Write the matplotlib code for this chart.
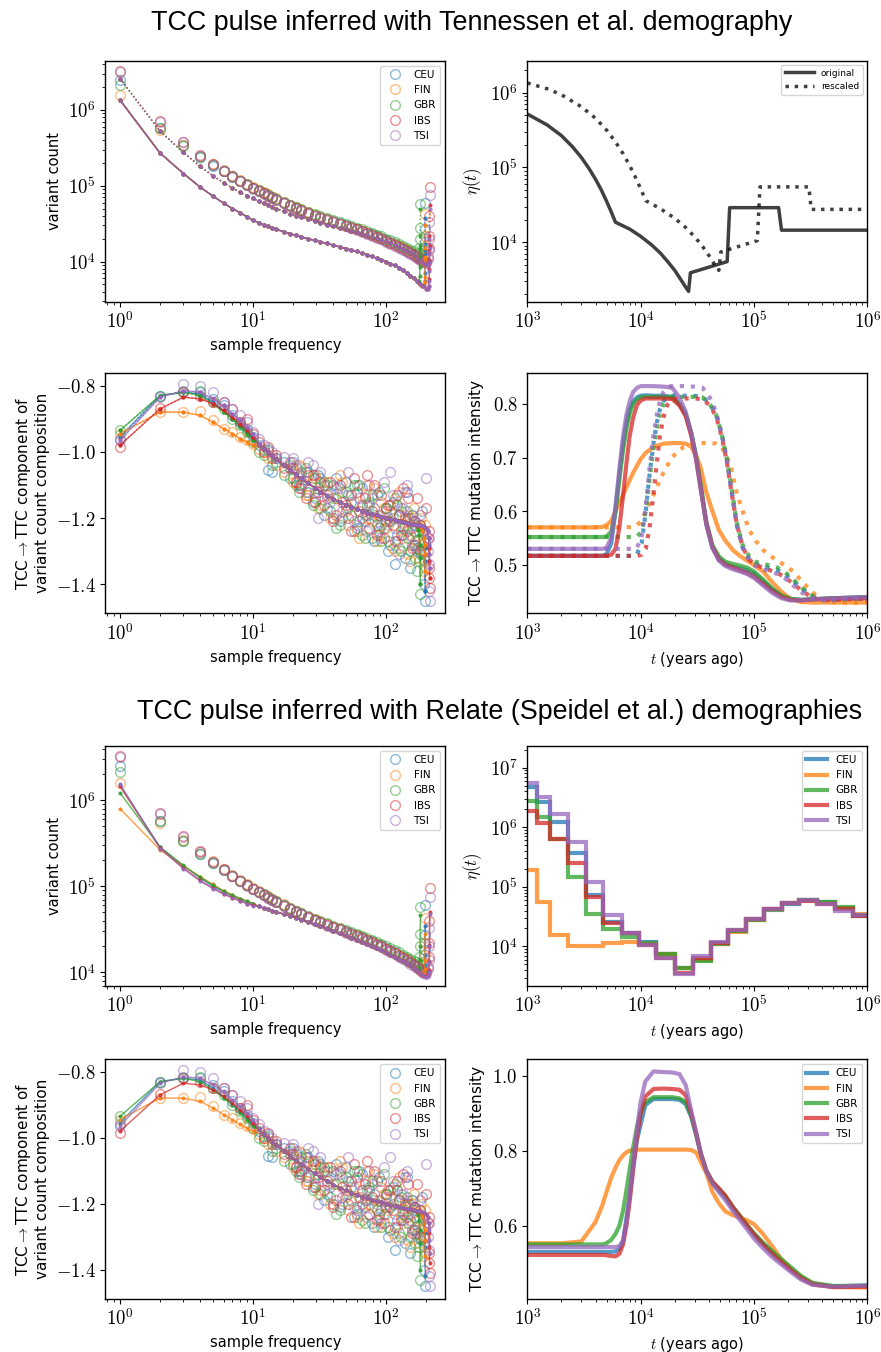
import numpy as np
import matplotlib.pyplot as plt
from matplotlib.lines import Line2D
from matplotlib.ticker import FuncFormatter, NullFormatter

plt.rcParams['mathtext.fontset'] = 'cm'
plt.rcParams['font.family'] = 'DejaVu Sans'
plt.rcParams['axes.linewidth'] = 1.0

pops = ['CEU', 'FIN', 'GBR', 'IBS', 'TSI']
colors = ['C0', 'C1', 'C2', 'C3', 'C4']

# ---------------- sample frequency spectra ----------------
freq = [1, 2, 3, 4, 5, 6, 7, 8, 9, 10, 11, 12, 13, 14, 15, 17, 19, 21, 23, 26, 29, 32, 36, 40, 45,
        50, 55, 60, 66, 72, 78, 85, 92, 100, 108, 116, 125, 134, 143, 152, 161, 170]
tail_freq = {
    'CEU': [176, 182, 188, 193, 195, 196, 197],
    'FIN': [176, 182, 188, 193, 195, 196, 197],
    'GBR': [174, 177, 179, 180, 181],
    'IBS': [180, 190, 200, 206, 209, 211, 212, 213],
    'TSI': [180, 190, 200, 206, 209, 211, 212, 213],
}

sfs_obs = {
    'CEU': [2.5e6, 5.8e5, 3.4e5, 2.4e5, 1.85e5, 1.55e5, 1.32e5, 1.15e5, 1.03e5, 9.3e4, 8.6e4, 8.0e4, 7.5e4, 7.0e4,
            6.6e4, 6.0e4, 5.5e4, 5.1e4, 4.8e4, 4.4e4, 4.1e4, 3.85e4, 3.6e4, 3.4e4, 3.2e4, 3.0e4, 2.85e4, 2.7e4,
            2.55e4, 2.4e4, 2.3e4, 2.15e4, 2.05e4, 1.9e4, 1.8e4, 1.7e4, 1.6e4, 1.5e4, 1.42e4, 1.33e4, 1.25e4, 1.17e4],
    'FIN': [1.6e6, 5.4e5, 3.45e5, 2.5e5, 1.95e5, 1.6e5, 1.36e5, 1.19e5, 1.06e5, 9.6e4, 8.85e4, 8.2e4, 7.7e4, 7.2e4,
            6.8e4, 6.15e4, 5.6e4, 5.2e4, 4.85e4, 4.45e4, 4.12e4, 3.85e4, 3.6e4, 3.38e4, 3.17e4, 2.98e4, 2.82e4,
            2.68e4, 2.52e4, 2.38e4, 2.27e4, 2.13e4, 2.02e4, 1.88e4, 1.78e4, 1.68e4, 1.58e4, 1.49e4, 1.41e4, 1.32e4,
            1.24e4, 1.16e4],
    'GBR': [2.15e6, 5.7e5, 3.35e5, 2.4e5, 1.88e5, 1.56e5, 1.33e5, 1.16e5, 1.04e5, 9.4e4, 8.7e4, 8.1e4, 7.6e4, 7.1e4,
            6.7e4, 6.1e4, 5.6e4, 5.2e4, 4.9e4, 4.5e4, 4.2e4, 3.95e4, 3.7e4, 3.5e4, 3.3e4, 3.1e4, 2.95e4, 2.8e4,
            2.65e4, 2.5e4, 2.4e4, 2.25e4, 2.15e4, 2.0e4, 1.9e4, 1.8e4, 1.7e4, 1.6e4, 1.52e4, 1.44e4, 1.36e4, 1.3e4],
    'IBS': [3.3e6, 7.1e5, 3.8e5, 2.55e5, 1.92e5, 1.57e5, 1.33e5, 1.16e5, 1.03e5, 9.3e4, 8.6e4, 8.0e4, 7.4e4, 6.95e4,
            6.55e4, 5.95e4, 5.45e4, 5.05e4, 4.75e4, 4.35e4, 4.05e4, 3.8e4, 3.55e4, 3.35e4, 3.15e4, 2.95e4, 2.8e4,
            2.65e4, 2.5e4, 2.36e4, 2.25e4, 2.1e4, 2.0e4, 1.86e4, 1.76e4, 1.66e4, 1.56e4, 1.47e4, 1.39e4, 1.3e4,
            1.22e4, 1.15e4],
    'TSI': [3.15e6, 7.0e5, 3.75e5, 2.5e5, 1.9e5, 1.56e5, 1.32e5, 1.15e5, 1.02e5, 9.2e4, 8.5e4, 7.9e4, 7.35e4, 6.9e4,
            6.5e4, 5.9e4, 5.4e4, 5.0e4, 4.7e4, 4.3e4, 4.0e4, 3.75e4, 3.5e4, 3.3e4, 3.1e4, 2.9e4, 2.75e4, 2.6e4,
            2.45e4, 2.32e4, 2.2e4, 2.06e4, 1.96e4, 1.82e4, 1.72e4, 1.62e4, 1.52e4, 1.43e4, 1.35e4, 1.26e4, 1.18e4,
            1.11e4],
}
sfs_obs_tail = {
    'CEU': [1.08e4, 1.05e4, 1.05e4, 1.3e4, 1.8e4, 2.7e4, 6.0e4],
    'FIN': [1.08e4, 1.04e4, 1.03e4, 1.2e4, 1.6e4, 2.2e4, 4.3e4],
    'GBR': [1.25e4, 1.5e4, 2.0e4, 2.8e4, 5.8e4],
    'IBS': [1.1e4, 1.02e4, 1.0e4, 1.15e4, 1.5e4, 2.2e4, 4.0e4, 9.6e4],
    'TSI': [1.05e4, 9.8e3, 9.6e3, 1.08e4, 1.4e4, 2.0e4, 3.3e4, 7.6e4],
}

# Tennessen fits (original and rescaled demography)
sfs_tenn_orig = [1.35e6, 2.7e5, 1.45e5, 9.6e4, 7.3e4, 5.9e4, 5.0e4, 4.4e4, 3.9e4, 3.5e4, 3.25e4, 3.05e4, 2.9e4,
                 2.75e4, 2.65e4, 2.48e4, 2.33e4, 2.22e4, 2.12e4, 2.0e4, 1.9e4, 1.82e4, 1.73e4, 1.65e4, 1.56e4,
                 1.48e4, 1.42e4, 1.36e4, 1.29e4, 1.23e4, 1.17e4, 1.11e4, 1.06e4, 1.0e4, 9.4e3, 8.9e3, 8.3e3, 7.7e3,
                 7.1e3, 6.5e3, 6.0e3, 5.5e3]
sfs_tenn_orig_tail = {
    'CEU': [5.2e3, 4.9e3, 4.7e3, 4.9e3, 5.6e3, 7.0e3, 1.4e4],
    'FIN': [5.2e3, 4.9e3, 4.7e3, 4.8e3, 5.3e3, 6.3e3, 1.1e4],
    'GBR': [5.4e3, 5.6e3, 6.5e3, 8.5e3, 1.6e4],
    'IBS': [5.0e3, 4.7e3, 4.4e3, 4.4e3, 4.8e3, 5.8e3, 8.0e3, 1.6e4],
    'TSI': [5.0e3, 4.7e3, 4.4e3, 4.4e3, 4.7e3, 5.5e3, 7.5e3, 1.5e4],
}
sfs_tenn_resc = [2.6e6, 5.25e5, 2.75e5, 1.8e5, 1.35e5, 1.1e5, 9.3e4, 8.2e4, 7.4e4, 6.8e4, 6.3e4, 5.9e4, 5.55e4,
                 5.25e4, 5.0e4, 4.6e4, 4.3e4, 4.05e4, 3.85e4, 3.6e4, 3.4e4, 3.25e4, 3.08e4, 2.93e4, 2.77e4, 2.65e4,
                 2.53e4, 2.43e4, 2.32e4, 2.22e4, 2.13e4, 2.03e4, 1.94e4, 1.85e4, 1.76e4, 1.67e4, 1.57e4, 1.48e4,
                 1.39e4, 1.3e4, 1.21e4, 1.12e4]
sfs_tenn_resc_tail = {
    'CEU': [1.04e4, 9.8e3, 9.4e3, 1.0e4, 1.25e4, 1.7e4, 3.8e4],
    'FIN': [1.04e4, 9.8e3, 9.4e3, 9.8e3, 1.15e4, 1.5e4, 3.0e4],
    'GBR': [1.08e4, 1.15e4, 1.45e4, 2.2e4, 5.0e4],
    'IBS': [1.02e4, 9.6e3, 9.0e3, 9.2e3, 1.05e4, 1.4e4, 2.2e4, 5.5e4],
    'TSI': [1.02e4, 9.6e3, 9.0e3, 9.1e3, 1.0e4, 1.3e4, 2.0e4, 5.0e4],
}

# Relate fits
sfs_rel_low = {
    'CEU': [1.5e6, 2.85e5, 1.72e5, 1.25e5, 1.0e5, 8.6e4, 7.7e4, 7.1e4, 6.6e4, 6.2e4],
    'FIN': [8.0e5, 2.65e5, 1.7e5, 1.3e5, 1.05e5, 8.9e4, 7.9e4, 7.2e4, 6.7e4, 6.3e4],
    'GBR': [1.22e6, 2.85e5, 1.75e5, 1.28e5, 1.03e5, 8.8e4, 7.9e4, 7.2e4, 6.7e4, 6.3e4],
    'IBS': [1.45e6, 2.8e5, 1.62e5, 1.17e5, 9.5e4, 8.2e4, 7.4e4, 6.8e4, 6.3e4, 6.0e4],
    'TSI': [1.55e6, 2.75e5, 1.6e5, 1.15e5, 9.4e4, 8.1e4, 7.3e4, 6.7e4, 6.3e4, 5.95e4],
}
sfs_rel_mid = [5.85e4, 5.6e4, 5.4e4, 5.2e4, 5.05e4, 4.75e4, 4.5e4, 4.3e4, 4.1e4, 3.85e4, 3.65e4, 3.45e4, 3.25e4,
               3.05e4, 2.85e4, 2.68e4, 2.52e4, 2.4e4, 2.26e4, 2.13e4, 2.02e4, 1.9e4, 1.8e4, 1.7e4, 1.6e4, 1.52e4,
               1.43e4, 1.35e4, 1.27e4, 1.2e4, 1.13e4, 1.06e4]
sfs_rel_tail = {
    'CEU': [1.02e4, 9.9e3, 9.7e3, 1.0e4, 1.2e4, 1.6e4, 3.5e4],
    'FIN': [1.02e4, 9.9e3, 9.7e3, 9.9e3, 1.1e4, 1.4e4, 2.8e4],
    'GBR': [1.05e4, 1.12e4, 1.4e4, 2.0e4, 4.6e4],
    'IBS': [9.8e3, 9.4e3, 9.0e3, 9.2e3, 1.05e4, 1.35e4, 2.1e4, 5.0e4],
    'TSI': [9.7e3, 9.2e3, 8.8e3, 9.0e3, 1.0e4, 1.3e4, 2.0e4, 4.7e4],
}

# ---------------- TCC->TTC composition ----------------
comp_obs = {
    'CEU': [-0.96, -0.83, -0.815, -0.82, -0.84, -0.86, -0.89, -0.91, -0.93, -0.955, -0.98, -0.995, -1.055, -1.06,
            -1.02, -1.03, -1.08, -1.05, -1.11, -1.06, -1.14, -1.08, -1.17, -1.10, -1.21, -1.09, -1.15, -1.23,
            -1.11, -1.19, -1.26, -1.13, -1.22, -1.17, -1.28, -1.34, -1.19, -1.25, -1.12, -1.35, -1.21, -1.29],
    'FIN': [-0.945, -0.88, -0.88, -0.877, -0.905, -0.93, -0.94, -0.955, -0.965, -0.975, -0.99, -1.0, -1.02, -1.01,
            -1.04, -1.06, -1.05, -1.09, -1.045, -1.13, -1.07, -1.16, -1.09, -1.2, -1.07, -1.18, -1.13, -1.24,
            -1.16, -1.1, -1.21, -1.27, -1.15, -1.23, -1.18, -1.3, -1.12, -1.26, -1.21, -1.33, -1.17, -1.25],
    'GBR': [-0.935, -0.83, -0.82, -0.815, -0.85, -0.87, -0.9, -0.92, -0.94, -0.97, -1.0, -1.01, -0.995, -1.04,
            -1.03, -1.07, -1.04, -1.1, -1.06, -1.12, -1.08, -1.17, -1.1, -1.14, -1.22, -1.12, -1.19, -1.1,
            -1.25, -1.16, -1.13, -1.22, -1.27, -1.17, -1.21, -1.14, -1.29, -1.23, -1.18, -1.3, -1.24, -1.36],
    'IBS': [-0.985, -0.868, -0.82, -0.83, -0.85, -0.85, -0.87, -0.91, -0.9, -0.945, -0.97, -1.0, -0.985, -1.02,
            -1.01, -1.05, -1.03, -1.09, -1.1, -1.07, -1.15, -1.09, -1.13, -1.21, -1.1, -1.16, -1.24, -1.12,
            -1.2, -1.07, -1.18, -1.25, -1.13, -1.21, -1.16, -1.27, -1.19, -1.11, -1.24, -1.2, -1.28, -1.14],
    'TSI': [-0.965, -0.835, -0.795, -0.8, -0.82, -0.85, -0.87, -0.89, -0.91, -0.94, -0.96, -0.98, -0.99, -1.0,
            -1.02, -1.015, -1.05, -1.04, -1.07, -1.03, -1.12, -1.06, -1.14, -1.2, -1.11, -1.17, -1.13, -1.22,
            -1.16, -1.24, -1.14, -1.2, -1.26, -1.18, -1.06, -1.23, -1.31, -1.17, -1.1, -1.25, -1.21, -1.3],
}
# extra observed frequencies filling the noisy cloud
comp_freq_extra = [20, 22, 25, 28, 31, 34, 38, 42, 47, 52, 57, 63, 69, 75, 81, 88, 96, 104, 112, 120, 129, 138,
                   147, 156, 165]
comp_obs_extra = {
    'CEU': [-1.03, -1.1, -1.06, -1.15, -1.07, -1.19, -1.12, -1.08, -1.2, -1.13, -1.24, -1.1, -1.21, -1.16, -1.27,
            -1.12, -1.23, -1.3, -1.15, -1.25, -1.18, -1.32, -1.2, -1.28, -1.22],
    'FIN': [-1.09, -1.04, -1.13, -1.08, -1.17, -1.1, -1.2, -1.14, -1.09, -1.22, -1.15, -1.26, -1.13, -1.2, -1.11,
            -1.25, -1.17, -1.22, -1.29, -1.16, -1.24, -1.19, -1.31, -1.23, -1.27],
    'GBR': [-1.08, -1.12, -1.05, -1.16, -1.11, -1.09, -1.18, -1.23, -1.12, -1.17, -1.1, -1.21, -1.26, -1.15, -1.19,
            -1.23, -1.11, -1.27, -1.2, -1.16, -1.3, -1.22, -1.26, -1.19, -1.32],
    'IBS': [-1.05, -1.11, -1.14, -1.07, -1.12, -1.16, -1.09, -1.19, -1.15, -1.2, -1.08, -1.18, -1.14, -1.23, -1.1,
            -1.19, -1.26, -1.16, -1.22, -1.13, -1.25, -1.2, -1.14, -1.29, -1.21],
    'TSI': [-1.02, -1.08, -1.12, -1.04, -1.2, -1.1, -1.15, -1.11, -1.18, -1.06, -1.21, -1.14, -1.19, -1.1, -1.17,
            -1.24, -1.09, -1.2, -1.13, -1.27, -1.17, -1.12, -1.23, -1.19, -1.28],
}
comp_obs_tail = {
    'CEU': [-1.24, -1.31, -1.18, -1.4, -1.27, -1.33, -1.45],
    'FIN': [-1.32, -1.2, -1.28, -1.36, -1.22, -1.3, -1.35],
    'GBR': [-1.27, -1.33, -1.22, -1.3, -1.43],
    'IBS': [-1.22, -1.3, -1.17, -1.26, -1.35, -1.24, -1.38, -1.41],
    'TSI': [-1.19, -1.24, -1.08, -1.3, -1.34, -1.26, -1.42, -1.45],
}
comp_fit_low = {
    'CEU': [-0.955, -0.83, -0.82, -0.825, -0.85, -0.875, -0.9, -0.92, -0.94, -0.96],
    'FIN': [-0.945, -0.88, -0.88, -0.89, -0.91, -0.93, -0.945, -0.96, -0.97, -0.98],
    'GBR': [-0.935, -0.83, -0.82, -0.83, -0.855, -0.88, -0.9, -0.925, -0.945, -0.965],
    'IBS': [-0.98, -0.87, -0.835, -0.84, -0.855, -0.875, -0.895, -0.915, -0.935, -0.955],
    'TSI': [-0.965, -0.835, -0.815, -0.82, -0.84, -0.86, -0.885, -0.905, -0.925, -0.945],
}
comp_fit_mid = [-0.975, -0.99, -1.0, -1.012, -1.022, -1.04, -1.055, -1.068, -1.08, -1.095, -1.108, -1.12,
                -1.132, -1.142, -1.152, -1.16, -1.167, -1.173, -1.179, -1.184, -1.188, -1.192, -1.196, -1.2,
                -1.203, -1.206, -1.209, -1.212, -1.215, -1.217, -1.219, -1.222]
comp_fit_tail = {
    'CEU': [-1.225, -1.23, -1.24, -1.26, -1.29, -1.33, -1.42],
    'FIN': [-1.225, -1.23, -1.24, -1.26, -1.28, -1.31, -1.36],
    'GBR': [-1.235, -1.25, -1.28, -1.32, -1.4],
    'IBS': [-1.222, -1.225, -1.23, -1.24, -1.26, -1.29, -1.33, -1.38],
    'TSI': [-1.222, -1.225, -1.23, -1.24, -1.26, -1.28, -1.31, -1.35],
}

# ---------------- Tennessen demography ----------------
tenn_t_orig = [1000, 1500, 2000, 2500, 3000, 3500, 4000, 4500, 5000, 5500, 6000, 8000, 10000, 12500, 15000,
               17500, 20000, 22500, 25000, 26500, 27500, 58000, 61000, 165000, 175000, 1000000]
tenn_eta_orig = [5.2e5, 3.7e5, 2.67e5, 1.9e5, 1.36e5, 9.7e4, 6.96e4, 5.0e4, 3.55e4, 2.55e4, 1.85e4, 1.5e4, 1.2e4,
                 9.2e3, 7.1e3, 5.4e3, 4.2e3, 3.2e3, 2.5e3, 2.2e3, 3.9e3, 5.5e3, 2.9e4, 2.9e4, 1.45e4, 1.45e4]
tenn_t_resc = [1000, 1500, 2000, 3000, 4000, 5000, 6000, 7000, 8000, 9000, 10000, 11100, 15000, 20000, 25000,
               30000, 35000, 40000, 45000, 49000, 51000, 107000, 113000, 305000, 320000, 1000000]
tenn_eta_resc = [1.35e6, 1.13e6, 9.4e5, 6.5e5, 4.55e5, 3.17e5, 2.2e5, 1.53e5, 1.06e5, 7.4e4, 5.2e4, 3.6e4, 2.8e4,
                 2.09e4, 1.57e4, 1.18e4, 8.9e3, 6.66e3, 5.0e3, 4.2e3, 7.4e3, 1.05e4, 5.5e4, 5.5e4, 2.75e4, 2.75e4]

# ---------------- mutation intensity histories ----------------
t_mu = [1000, 2000, 3000, 4000, 4600, 5000, 5500, 6000, 6500, 7000, 7500, 8000, 8600, 9300, 10000, 11000, 13000,
        16000, 19000, 22000, 25000, 28000, 31000, 34000, 38000, 43000, 49000, 56000, 65000, 75000, 87000, 100000,
        120000, 145000, 175000, 210000, 260000, 330000, 500000, 1000000]
t_mu_resc = [1000, 3700, 5550, 7400, 8510, 9250, 10200, 11100, 12000, 12950, 13900, 14800, 15900, 17200, 18500,
             20400, 24000, 29600, 35200, 40700, 46300, 51800, 57400, 62900, 70300, 79600, 90700, 103600, 120300,
             138800, 161000, 185000, 222000, 268000, 324000, 389000, 481000, 611000, 925000, 1850000]
mu_tenn = {
    'CEU': [0.517, 0.517, 0.517, 0.517, 0.517, 0.52, 0.54, 0.6, 0.67, 0.725, 0.765, 0.79, 0.805, 0.812, 0.815,
            0.816, 0.815, 0.815, 0.813, 0.8, 0.78, 0.745, 0.7, 0.645, 0.575, 0.532, 0.512, 0.502, 0.497, 0.494,
            0.49, 0.484, 0.47, 0.455, 0.443, 0.437, 0.435, 0.436, 0.438, 0.44],
    'FIN': [0.57, 0.57, 0.57, 0.57, 0.571, 0.574, 0.582, 0.6, 0.615, 0.63, 0.645, 0.658, 0.672, 0.685, 0.697,
            0.708, 0.72, 0.726, 0.727, 0.727, 0.726, 0.72, 0.703, 0.68, 0.635, 0.6, 0.565, 0.545, 0.528, 0.517,
            0.508, 0.5, 0.488, 0.468, 0.45, 0.437, 0.431, 0.43, 0.43, 0.43],
    'GBR': [0.552, 0.552, 0.552, 0.552, 0.552, 0.553, 0.562, 0.6, 0.66, 0.715, 0.755, 0.782, 0.8, 0.808, 0.812,
            0.813, 0.813, 0.813, 0.812, 0.8, 0.78, 0.745, 0.7, 0.648, 0.58, 0.537, 0.516, 0.506, 0.502, 0.499,
            0.495, 0.488, 0.473, 0.456, 0.443, 0.437, 0.435, 0.436, 0.438, 0.44],
    'IBS': [0.517, 0.517, 0.517, 0.517, 0.517, 0.517, 0.519, 0.53, 0.57, 0.63, 0.69, 0.74, 0.775, 0.798, 0.806,
            0.81, 0.81, 0.81, 0.809, 0.797, 0.777, 0.74, 0.694, 0.64, 0.578, 0.533, 0.51, 0.5, 0.495, 0.49,
            0.485, 0.478, 0.465, 0.451, 0.44, 0.435, 0.434, 0.436, 0.437, 0.438],
    'TSI': [0.53, 0.53, 0.53, 0.53, 0.53, 0.532, 0.55, 0.61, 0.68, 0.74, 0.78, 0.805, 0.822, 0.83, 0.833, 0.833,
            0.833, 0.832, 0.83, 0.812, 0.785, 0.745, 0.695, 0.64, 0.578, 0.532, 0.508, 0.498, 0.492, 0.488,
            0.483, 0.476, 0.462, 0.448, 0.438, 0.434, 0.434, 0.436, 0.438, 0.44],
}
mu_rel = {
    'CEU': [0.53, 0.53, 0.53, 0.53, 0.53, 0.53, 0.53, 0.531, 0.538, 0.56, 0.62, 0.68, 0.76, 0.83, 0.87, 0.922,
            0.938, 0.938, 0.938, 0.936, 0.925, 0.89, 0.84, 0.79, 0.745, 0.715, 0.695, 0.676, 0.648, 0.625, 0.6,
            0.578, 0.552, 0.528, 0.505, 0.485, 0.462, 0.445, 0.438, 0.44],
    'FIN': [0.553, 0.553, 0.558, 0.61, 0.655, 0.69, 0.728, 0.755, 0.775, 0.788, 0.796, 0.8, 0.802, 0.803, 0.803,
            0.803, 0.803, 0.803, 0.803, 0.803, 0.803, 0.802, 0.795, 0.77, 0.74, 0.69, 0.66, 0.638, 0.628, 0.622,
            0.614, 0.604, 0.578, 0.545, 0.51, 0.485, 0.462, 0.446, 0.436, 0.435],
    'GBR': [0.55, 0.55, 0.55, 0.55, 0.55, 0.553, 0.562, 0.578, 0.6, 0.64, 0.695, 0.75, 0.81, 0.865, 0.9, 0.93,
            0.943, 0.943, 0.943, 0.94, 0.93, 0.893, 0.843, 0.792, 0.747, 0.717, 0.697, 0.678, 0.65, 0.627, 0.602,
            0.58, 0.555, 0.532, 0.51, 0.49, 0.466, 0.447, 0.439, 0.44],
    'IBS': [0.522, 0.522, 0.522, 0.522, 0.522, 0.521, 0.519, 0.518, 0.525, 0.55, 0.6, 0.665, 0.75, 0.84, 0.9,
            0.945, 0.965, 0.966, 0.965, 0.963, 0.948, 0.9, 0.845, 0.792, 0.747, 0.717, 0.7, 0.68, 0.65, 0.625,
            0.6, 0.576, 0.549, 0.524, 0.502, 0.482, 0.46, 0.443, 0.436, 0.437],
    'TSI': [0.543, 0.543, 0.543, 0.543, 0.543, 0.543, 0.543, 0.543, 0.545, 0.56, 0.61, 0.68, 0.77, 0.86, 0.93,
            0.985, 1.012, 1.01, 1.009, 1.005, 0.975, 0.905, 0.847, 0.792, 0.745, 0.712, 0.69, 0.668, 0.64, 0.615,
            0.59, 0.566, 0.54, 0.516, 0.496, 0.477, 0.456, 0.442, 0.437, 0.44],
}

# ---------------- Relate demographies (piecewise constant) ----------------
relate_edges = [1000, 1220, 1580, 2270, 3270, 4680, 6800, 9700, 13800, 20000, 28800, 41500, 59400, 85100,
                122000, 175000, 251000, 362000, 519000, 741000, 1070000]
eta_rel = {
    'CEU': [4.8e6, 2.7e6, 1.24e6, 3.7e5, 7.3e4, 2.6e4, 1.66e4, 1.17e4, 7.6e3, 4.3e3, 6.0e3, 1.12e4, 1.8e4,
            2.9e4, 4.2e4, 5.25e4, 6.0e4, 5.5e4, 4.35e4, 3.3e4],
    'FIN': [1.95e5, 5.5e4, 1.55e4, 1.0e4, 1.0e4, 1.15e4, 1.2e4, 1.1e4, 7.6e3, 4.3e3, 6.0e3, 1.1e4, 1.75e4,
            2.8e4, 4.2e4, 5.3e4, 6.0e4, 5.4e4, 4.4e4, 3.5e4],
    'GBR': [2.8e6, 1.5e6, 6.3e5, 1.48e5, 3.5e4, 1.95e4, 1.45e4, 1.15e4, 7.6e3, 4.3e3, 5.8e3, 1.08e4, 1.8e4,
            2.8e4, 4.1e4, 5.3e4, 6.0e4, 5.6e4, 4.5e4, 3.4e4],
    'IBS': [1.86e6, 1.16e6, 6.3e5, 2.54e5, 6.8e4, 2.5e4, 1.66e4, 1.05e4, 6.3e3, 3.6e3, 6.3e3, 1.15e4, 1.85e4,
            2.9e4, 4.3e4, 5.3e4, 5.8e4, 5.2e4, 4.2e4, 3.3e4],
    'TSI': [5.5e6, 3.2e6, 1.66e6, 5.7e5, 1.2e5, 3.4e4, 1.7e4, 1.07e4, 6.3e3, 3.4e3, 6.9e3, 1.17e4, 1.9e4,
            2.9e4, 4.3e4, 5.4e4, 6.0e4, 5.1e4, 4.0e4, 3.4e4],
}

W, H = 881, 1352
fig = plt.figure(figsize=(W / 100, H / 100), dpi=100)


def panel(x0, y0, x1, y1):
    return fig.add_axes([x0 / W, 1 - y1 / H, (x1 - x0) / W, (y1 - y0) / H])


def log_ticks(v, pos):
    return '$10^{%d}$' % int(round(np.log10(v)))


def lin_ticks(v, pos):
    return '$%.1f$' % v


def style(ax, ylog=True):
    ax.set_xscale('log')
    ax.xaxis.set_major_formatter(FuncFormatter(log_ticks))
    ax.xaxis.set_minor_formatter(NullFormatter())
    if ylog:
        ax.set_yscale('log')
        ax.yaxis.set_major_formatter(FuncFormatter(log_ticks))
        ax.yaxis.set_minor_formatter(NullFormatter())
    else:
        ax.yaxis.set_major_formatter(FuncFormatter(lin_ticks))
    ax.tick_params(labelsize=13.5)


LX0, LX1, RX0, RX1 = 105.3, 445.3, 527.3, 867.3
rows = [(60.5, 301.7), (372.7, 613.3), (745.7, 985.7), (1059, 1298.7)]
lab = 10.5     # plain lower-case labels
lab2 = 11      # TCC->TTC labels
leg = 7.5


def sfs_panel(ax, fits):
    for p, c in zip(pops, colors):
        x = np.concatenate([freq, tail_freq[p]])
        ax.plot(x, np.concatenate([sfs_obs[p], sfs_obs_tail[p]]), 'o', mfc='none', mec=c, ms=7, mew=1,
                alpha=0.5, label=p)
    for p, c in zip(pops, colors):
        x = np.concatenate([freq, tail_freq[p]])
        for y, ls in fits(p):
            ax.plot(x, y, marker='.', ls=ls, color=c, ms=4, lw=1, alpha=0.75)


def comp_panel(ax, styles):
    for p, c in zip(pops, colors):
        x = np.concatenate([freq, comp_freq_extra, tail_freq[p]])
        y = np.concatenate([comp_obs[p], comp_obs_extra[p], comp_obs_tail[p]])
        ax.plot(x, y, 'o', mfc='none', mec=c, ms=7, mew=1, alpha=0.5, label=p)
    for p, c in zip(pops, colors):
        x = np.concatenate([freq, tail_freq[p]])
        y = np.concatenate([comp_fit_low[p], comp_fit_mid, comp_fit_tail[p]])
        for ls in styles:
            ax.plot(x, y, marker='.', ls=ls, color=c, ms=4, lw=1, alpha=0.75)


# ---- row 1 left
ax = panel(LX0, rows[0][0], LX1, rows[0][1])
sfs_panel(ax, lambda p: [(np.concatenate([sfs_tenn_orig, sfs_tenn_orig_tail[p]]), '-'),
                         (np.concatenate([sfs_tenn_resc, sfs_tenn_resc_tail[p]]), ':')])
style(ax)
ax.set_xlim(0.775, 279)
ax.set_ylim(2.95e3, 4.5e6)
ax.set_xlabel('sample frequency', fontsize=lab)
ax.set_ylabel('variant count', fontsize=lab)
ax.legend(fontsize=leg, loc='upper right')

# ---- row 1 right
ax = panel(RX0, rows[0][0], RX1, rows[0][1])
ax.plot(tenn_t_orig, tenn_eta_orig, '-', color='k', alpha=0.75, lw=2.5, label='original')
ax.plot(tenn_t_resc, tenn_eta_resc, ':', color='k', alpha=0.75, lw=2.5, label='rescaled')
style(ax)
ax.set_xlim(1e3, 1e6)
ax.set_ylim(1.6e3, 2.7e6)
ax.set_ylabel('$\\eta(t)$', fontsize=lab2 + 1)
ax.legend(fontsize=6.5, loc='upper right', handlelength=3.2)

# ---- row 2 left
ax = panel(LX0, rows[1][0], LX1, rows[1][1])
comp_panel(ax, ['-', ':'])
style(ax, ylog=False)
ax.set_xlim(0.775, 279)
ax.set_ylim(-1.4876, -0.761)
ax.set_yticks([-1.4, -1.2, -1.0, -0.8])
ax.set_xlabel('sample frequency', fontsize=lab)
ax.set_ylabel('TCC$\\rightarrow$TTC component of\nvariant count composition', fontsize=lab2)

# ---- row 2 right
ax = panel(RX0, rows[1][0], RX1, rows[1][1])
for p, c in zip(pops, colors):
    ax.plot(t_mu, mu_tenn[p], '-', color=c, lw=3, alpha=0.75)
    ax.plot(t_mu_resc, mu_tenn[p], ':', color=c, lw=3, alpha=0.75)
style(ax, ylog=False)
ax.set_xlim(1e3, 1e6)
ax.set_ylim(0.41, 0.858)
ax.set_yticks([0.5, 0.6, 0.7, 0.8])
ax.set_xlabel('$t$ (years ago)', fontsize=lab)
ax.set_ylabel('TCC$\\rightarrow$TTC mutation intensity', fontsize=lab2)

# ---- row 3 left
ax = panel(LX0, rows[2][0], LX1, rows[2][1])
sfs_panel(ax, lambda p: [(np.concatenate([sfs_rel_low[p], sfs_rel_mid, sfs_rel_tail[p]]), '-')])
style(ax)
ax.set_xlim(0.775, 279)
ax.set_ylim(6.98e3, 4.32e6)
ax.set_xlabel('sample frequency', fontsize=lab)
ax.set_ylabel('variant count', fontsize=lab)
ax.legend(fontsize=leg, loc='upper right')

# ---- row 3 right
ax = panel(RX0, rows[2][0], RX1, rows[2][1])
for p, c in zip(pops, colors):
    ax.stairs(eta_rel[p], relate_edges, color=c, lw=3, alpha=0.75, baseline=None)
style(ax)
ax.set_xlim(1e3, 1e6)
ax.set_ylim(2.19e3, 2.34e7)
ax.set_xlabel('$t$ (years ago)', fontsize=lab)
ax.set_ylabel('$\\eta(t)$', fontsize=lab2 + 1)
ax.legend([Line2D([], [], color=c, lw=3, alpha=0.75) for c in colors], pops, fontsize=leg, loc='upper right')

# ---- row 4 left
ax = panel(LX0, rows[3][0], LX1, rows[3][1])
comp_panel(ax, ['-'])
style(ax, ylog=False)
ax.set_xlim(0.775, 279)
ax.set_ylim(-1.488, -0.7615)
ax.set_yticks([-1.4, -1.2, -1.0, -0.8])
ax.set_xlabel('sample frequency', fontsize=lab)
ax.set_ylabel('TCC$\\rightarrow$TTC component of\nvariant count composition', fontsize=lab2)
ax.legend(fontsize=leg, loc='upper right')

# ---- row 4 right
ax = panel(RX0, rows[3][0], RX1, rows[3][1])
for p, c in zip(pops, colors):
    ax.plot(t_mu, mu_rel[p], '-', color=c, lw=3, alpha=0.75, label=p)
style(ax, ylog=False)
ax.set_xlim(1e3, 1e6)
ax.set_ylim(0.405, 1.045)
ax.set_yticks([0.6, 0.8, 1.0])
ax.set_xlabel('$t$ (years ago)', fontsize=lab)
ax.set_ylabel('TCC$\\rightarrow$TTC mutation intensity', fontsize=lab2)
ax.legend(fontsize=leg, loc='upper right')

fig.text(472 / W, 1 - 23 / H, 'TCC pulse inferred with Tennessen et al. demography',
         ha='center', va='center', fontsize=19.4, family='Liberation Sans')
fig.text(500 / W, 1 - 712 / H, 'TCC pulse inferred with Relate (Speidel et al.) demographies',
         ha='center', va='center', fontsize=19.4, family='Liberation Sans')

fig.savefig('out.png', dpi=100)
